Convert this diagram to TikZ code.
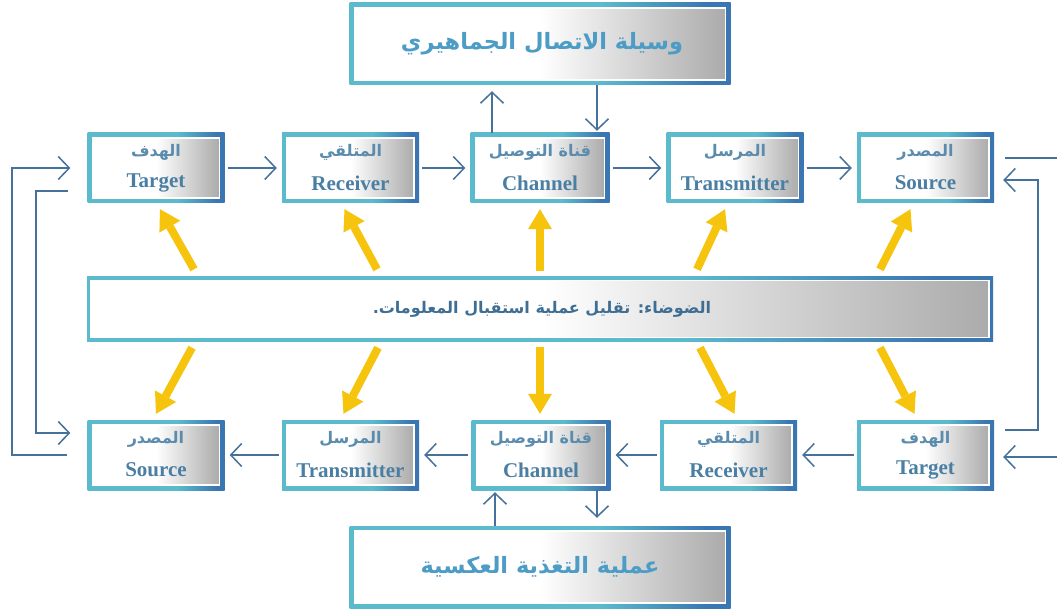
\documentclass[tikz,border=0pt]{standalone}
\usepackage{fontspec}
\usetikzlibrary{arrows.meta,calc}
\TeXXeTstate=1
\newfontfamily\arf[Script=Arabic]{DejaVu Sans}
\newfontfamily\enf{Liberation Serif}
\definecolor{bcyan}{HTML}{5BBACC}
\definecolor{bblue}{HTML}{3A76B2}
\definecolor{lnblue}{HTML}{45719A}
\definecolor{txblue}{HTML}{4A7FA3}
\definecolor{artx}{HTML}{5B8CAE}
\definecolor{bigtx}{HTML}{4C9CC6}
\definecolor{noisetx}{HTML}{3F6E94}
\definecolor{yel}{HTML}{F6C40C}
\pgfdeclarehorizontalshading{bordershade}{100bp}{color(0bp)=(bcyan); color(25bp)=(bcyan); color(58bp)=(bcyan); color(72bp)=(bblue); color(100bp)=(bblue)}
\pgfdeclarehorizontalshading{fillshade}{100bp}{color(0bp)=(white); color(25bp)=(white); color(50bp)=(white); color(75bp)=(black!33); color(100bp)=(black!33)}
\tikzset{
  outerbox/.style={shading=bordershade, inner sep=0pt},
  innerbox/.style={shading=fillshade, draw=white, line width=1.2pt, inner sep=0pt},
  artext/.style={text=artx, font=\arf\bfseries\fontsize{16}{19}\selectfont, inner sep=0pt},
  entext/.style={text=txblue, font=\enf\bfseries\fontsize{21}{24}\selectfont, inner sep=0pt},
  arr/.style={draw=lnblue, line width=1.5pt, -{Straight Barb[length=11pt,width=23pt]}},
  ln/.style={draw=lnblue, line width=1.5pt},
  yarrow/.style={draw=yel, line width=8pt, -{Triangle[length=20pt,width=24pt,line width=0pt]}}
}
\newcommand\mybox[6]{% name, x, y, width, arabic, english
  \node[outerbox, minimum width=#4, minimum height=70] (#1) at (#2,#3) {};
  \node[innerbox, minimum width=#4-10, minimum height=60] (#1f) at (#1) {};
  \node[artext] (#1a) at ($(#1)+(0,-16)$) {#5};
  \node[entext] (#1e) at ($(#1)+(0,15)$) {#6};
}
\begin{document}
\begin{tikzpicture}[x=1pt,y=-1pt]
\useasboundingbox[fill=white] (0,0) rectangle (1057,612);

% big boxes
\node[outerbox, minimum width=381, minimum height=82] (mass) at (540,44) {};
\node[innerbox, minimum width=371, minimum height=72] (massf) at (mass) {};
\node[text=bigtx, font=\arf\bfseries\fontsize{22.5}{27}\selectfont] (masst) at (542,44) {\beginR وسيلة الاتصال الجماهيري\endR};

\node[outerbox, minimum width=381, minimum height=82] (fb) at (540,567) {};
\node[innerbox, minimum width=371, minimum height=72] (fbf) at (fb) {};
\node[text=bigtx, font=\arf\bfseries\fontsize{22.5}{27}\selectfont] (fbt) at (540,567) {\beginR عملية التغذية العكسية\endR};

\node[outerbox, minimum width=906, minimum height=65] (N) at (540,309) {};
\node[innerbox, minimum width=898, minimum height=57] (Nf) at (N) {};
\node[text=noisetx, font=\arf\bfseries\fontsize{16}{20}\selectfont] (Nt) at (542,309) {\beginR الضوضاء: تقليل عملية استقبال المعلومات.\endR};

% top row
\mybox{T1}{156}{168}{137}{\beginR الهدف\endR}{Target}
\mybox{R1}{350.5}{168}{137}{\beginR المتلقي\endR}{Receiver}
\mybox{C1}{540}{168}{139}{\beginR قناة التوصيل\endR}{Channel}
\mybox{M1}{735}{168}{137}{\beginR المرسل\endR}{Transmitter}
\mybox{S1}{925.5}{168}{137}{\beginR المصدر\endR}{Source}

% bottom row
\mybox{S2}{156}{455}{137}{\beginR المصدر\endR}{Source}
\mybox{M2}{350.5}{455}{137}{\beginR المرسل\endR}{Transmitter}
\mybox{C2}{541}{455}{139}{\beginR قناة التوصيل\endR}{Channel}
\mybox{R2}{728.5}{455}{137}{\beginR المتلقي\endR}{Receiver}
\mybox{T2}{925.5}{455}{137}{\beginR الهدف\endR}{Target}

% row arrows
\foreach \a/\b in {T1/R1,R1/C1,C1/M1,M1/S1,T2/R2,R2/C2,C2/M2,M2/S2}
  \draw[arr, shorten <=3pt, shorten >=5pt] (\a) -- (\b);

% channel <-> big boxes
\coordinate (c1u) at ($(C1.north)+(-48,0)$);
\coordinate (c1d) at ($(C1.north)+(57,0)$);
\draw[arr, shorten >=6pt] (c1u) -- (c1u |- mass.south);
\draw[arr, shorten >=2pt] (c1d |- mass.south) -- (c1d);
\coordinate (c2u) at ($(C2.south)+(-46,0)$);
\coordinate (c2d) at ($(C2.south)+(56,0)$);
\draw[arr, shorten >=2pt] (c2u |- fb.north) -- (c2u);
\draw[arr, shorten >=8pt] (c2d) -- (c2d |- fb.north);

% left feedback lines
\coordinate (lo) at (12,0);
\coordinate (li) at (36,0);
\draw[arr, shorten <=20pt, shorten >=17pt] (S2.west) -- (S2.west -| lo) -- (T1.west -| lo) -- (T1.west);
\coordinate (t1i) at ($(T1.west)+(0,23)$);
\coordinate (s2i) at ($(S2.west)+(0,-22)$);
\draw[arr, shorten <=19pt, shorten >=17pt] (t1i) -- (t1i -| li) -- (s2i -| li) -- (s2i);

% right feedback lines
\coordinate (ro) at (1057,0);
\coordinate (ri) at (1038,0);
\coordinate (s1o) at ($(S1.east)+(0,-10)$);
\draw[ln, shorten <=11pt] (s1o) -- (s1o -| ro);
\coordinate (s1i) at ($(S1.east)+(0,12)$);
\coordinate (t2o) at ($(T2.east)+(0,-25)$);
\draw[arr, shorten <=11pt, shorten >=9pt] (t2o) -- (t2o -| ri) -- (s1i -| ri) -- (s1i);
\coordinate (t2i) at ($(T2.east)+(0,2)$);
\draw[arr, shorten >=9pt] (t2i -| ro) -- (t2i);

% yellow noise arrows (top)
\draw[yarrow] ($(N.north)+(-346,-7)$) -- ($(T1.south)+(4,6)$);
\draw[yarrow] ($(N.north)+(-163,-7)$) -- ($(R1.south)+(-6,6)$);
\draw[yarrow] ($(N.north)+(0,-5)$) -- ($(C1.south)+(0,6)$);
\draw[yarrow] ($(N.north)+(157,-7)$) -- ($(M1.south)+(-10,6)$);
\draw[yarrow] ($(N.north)+(340,-7)$) -- ($(S1.south)+(-15,6)$);
% yellow noise arrows (bottom)
\draw[yarrow] ($(N.south)+(-348,6)$) -- ($(S2.north)+(0,-6)$);
\draw[yarrow] ($(N.south)+(-162,6)$) -- ($(M2.north)+(-7,-6)$);
\draw[yarrow] ($(N.south)+(0,5)$) -- ($(C2.north)+(-1,-6)$);
\draw[yarrow] ($(N.south)+(160,6)$) -- ($(R2.north)+(6,-6)$);
\draw[yarrow] ($(N.south)+(340,6)$) -- ($(T2.north)+(-11,-6)$);
\end{tikzpicture}
\end{document}
